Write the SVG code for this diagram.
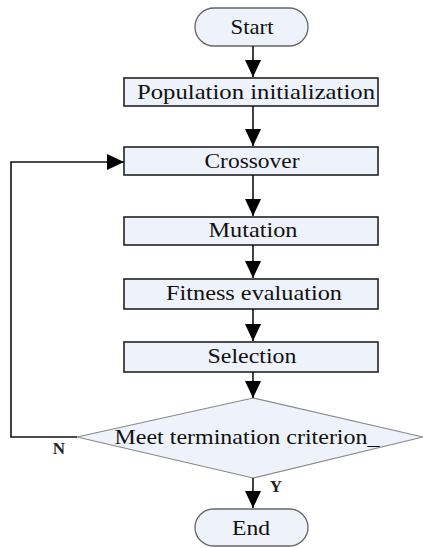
<svg xmlns="http://www.w3.org/2000/svg" width="423" height="548" viewBox="0 0 423 548">
<style>
.box{fill:#eef2fa;stroke:#222;stroke-width:1.6}
.term{fill:#eef2fa;stroke:#666;stroke-width:1.3}
.dia{fill:#eef2fa;stroke:#888;stroke-width:1.2}
.t{font-size:22px;fill:#111;text-anchor:middle}
.lbl{font-size:17px;font-weight:bold;fill:#222;text-anchor:middle}
.c{fill:none;stroke:#111;stroke-width:1.6}
</style>
<defs>
<marker id="ah" markerUnits="userSpaceOnUse" markerWidth="18" markerHeight="18" refX="17" refY="8" orient="auto">
<path d="M0,0 L17,8 L0,16 Z" fill="#000"/>
</marker>
</defs>
<g font-family="'Liberation Serif', 'DejaVu Serif', serif">
<g id="start"><rect class="term" x="195" y="8" width="113" height="38" rx="19"/><text class="t" x="252" y="34" textLength="43" lengthAdjust="spacingAndGlyphs">Start</text></g>
<g id="popinit"><rect class="box" x="124" y="78" width="254" height="28"/><text class="t" x="256" y="99" textLength="238" lengthAdjust="spacingAndGlyphs">Population initialization</text></g>
<g id="crossover"><rect class="box" x="124" y="147" width="254" height="28"/><text class="t" x="252" y="168" textLength="95" lengthAdjust="spacingAndGlyphs">Crossover</text></g>
<g id="mutation"><rect class="box" x="124" y="217" width="254" height="28"/><text class="t" x="253" y="237" textLength="89" lengthAdjust="spacingAndGlyphs">Mutation</text></g>
<g id="fitness"><rect class="box" x="124" y="279" width="254" height="30"/><text class="t" x="254" y="300" textLength="176" lengthAdjust="spacingAndGlyphs">Fitness evaluation</text></g>
<g id="selection"><rect class="box" x="124" y="342" width="254" height="30"/><text class="t" x="252" y="363" textLength="89" lengthAdjust="spacingAndGlyphs">Selection</text></g>
<g id="decision"><polygon class="dia" points="253,398 423,437 253,478 77,437"/><text class="t" x="247" y="444" textLength="265" lengthAdjust="spacingAndGlyphs">Meet termination criterion_</text></g>
<g id="end"><rect class="term" x="195" y="509" width="113" height="37" rx="18.5"/><text class="t" x="251" y="535" textLength="38" lengthAdjust="spacingAndGlyphs">End</text></g>
<g id="connectors">
<line class="c" x1="253" y1="46" x2="253" y2="77" marker-end="url(#ah)"/>
<line class="c" x1="253" y1="106" x2="253" y2="146" marker-end="url(#ah)"/>
<line class="c" x1="253" y1="175" x2="253" y2="216" marker-end="url(#ah)"/>
<line class="c" x1="253" y1="245" x2="253" y2="278" marker-end="url(#ah)"/>
<line class="c" x1="253" y1="309" x2="253" y2="341" marker-end="url(#ah)"/>
<line class="c" x1="253" y1="372" x2="253" y2="398" marker-end="url(#ah)"/>
<line class="c" x1="253" y1="478" x2="253" y2="508" marker-end="url(#ah)"/>
<polyline class="c" points="77,437 11,437 11,162 124,162" marker-end="url(#ah)"/>
<text class="lbl" x="59" y="454">N</text>
<text class="lbl" x="276" y="492">Y</text>
</g>
</g>
</svg>
